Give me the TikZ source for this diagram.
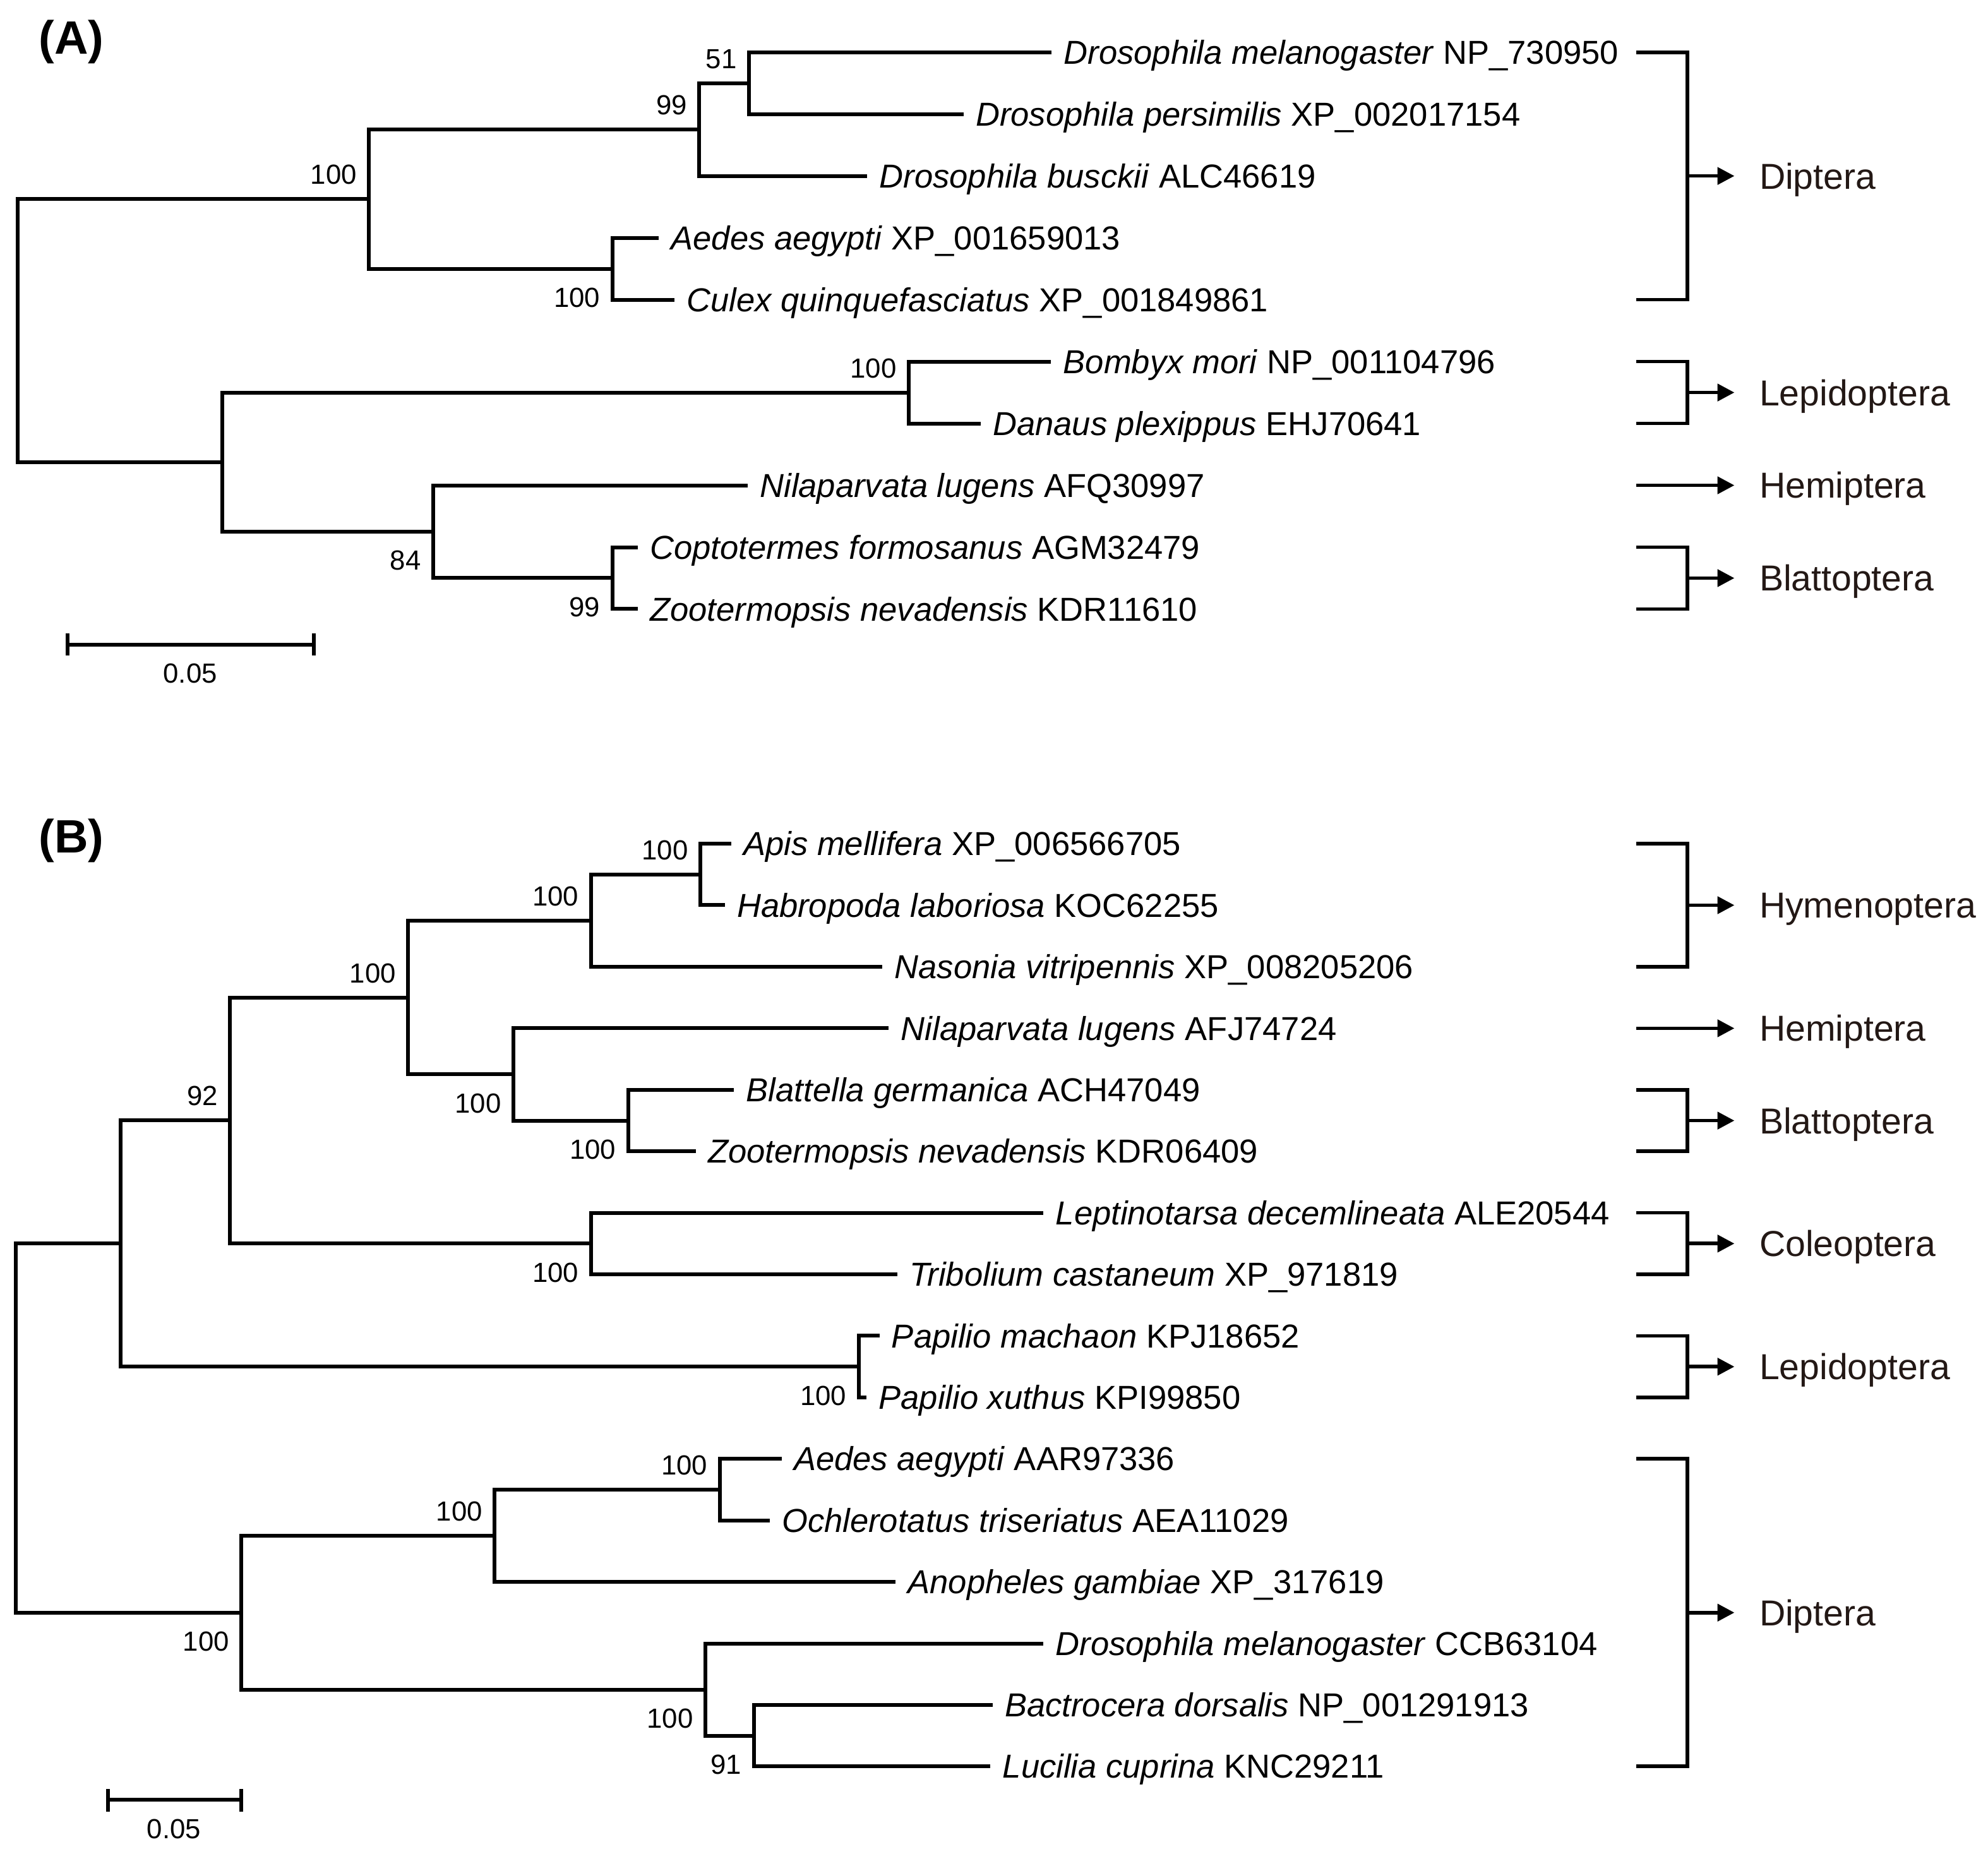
\documentclass[tikz,border=0pt]{standalone}
\usepackage{fontspec}
\setmainfont{Liberation Sans}
\usetikzlibrary{arrows.meta}
\definecolor{grpcol}{RGB}{35,24,21}
\tikzset{branch/.style = {line width=0.85pt},
         leaf/.style = {anchor=west, inner xsep=0.9mm, inner ysep=0pt, text height=5.3pt, text depth=0pt, font=\fontsize{7.45}{9}\selectfont},
         boot/.style = {inner sep=0pt, text height=4.45pt, text depth=0pt, font=\fontsize{6.2}{7}\selectfont},
         bsa/.style = {boot, anchor=south east, xshift=-0.9mm, yshift=1.1mm},
         bsb/.style = {boot, anchor=north east, xshift=-0.9mm, yshift=-1.4mm},
         bracket/.style = {line width=0.8pt},
         grparrow/.style = {line width=0.8pt, -{Triangle[length=3.8pt,width=3.8pt]}},
         group/.style = {anchor=west, inner xsep=1.9mm, inner ysep=0pt, text height=5.8pt, text depth=0pt, text=grpcol, font=\fontsize{8.1}{10}\selectfont},
         panel/.style = {anchor=west, inner sep=0pt, font=\fontsize{10.5}{12}\selectfont\bfseries}}

\begin{document}
\begin{tikzpicture}[x=0.1mm,y=-0.1mm]
    \useasboundingbox(0,0)rectangle(1568,1462);
    % panel A
    \node[panel](pA)at(30,33){(A)};
    \node[leaf](a1)at(829.4,41.2){\textit{Drosophila melanogaster} NP\_730950};
    \node[leaf](a2)at(760,90.0){\textit{Drosophila persimilis} XP\_002017154};
    \node[leaf](a3)at(684,138.8){\textit{Drosophila busckii} ALC46619};
    \node[leaf](a4)at(519.6,187.6){\textit{Aedes aegypti} XP\_001659013};
    \node[leaf](a5)at(532,236.4){\textit{Culex quinquefasciatus} XP\_001849861};
    \node[leaf](a6)at(829,285.2){\textit{Bombyx mori} NP\_001104796};
    \node[leaf](a7)at(773.4,334.0){\textit{Danaus plexippus} EHJ70641};
    \node[leaf](a8)at(589.7,382.8){\textit{Nilaparvata lugens} AFQ30997};
    \node[leaf](a9)at(503,431.6){\textit{Coptotermes formosanus} AGM32479};
    \node[leaf](a10)at(503,480.4){\textit{Zootermopsis nevadensis} KDR11610};
    \coordinate(nA51)at(590.7,65.6);
    \coordinate(nA99)at(551.6,102.2);
    \coordinate(nAae)at(483,212.0);
    \coordinate(nAdi)at(291,157.1);
    \coordinate(nAbm)at(716.8,309.6);
    \coordinate(nAct)at(483,456.0);
    \coordinate(nA84)at(341.6,419.4);
    \coordinate(nAlo)at(175.4,364.5);
    \coordinate(rA)at(13.7,260.8);
    \draw[branch](nA51)|-(a1.west);
    \draw[branch](nA51)|-(a2.west);
    \draw[branch](nA99)|-(nA51);
    \draw[branch](nA99)|-(a3.west);
    \draw[branch](nAae)|-(a4.west);
    \draw[branch](nAae)|-(a5.west);
    \draw[branch](nAdi)|-(nA99);
    \draw[branch](nAdi)|-(nAae);
    \draw[branch](nAbm)|-(a6.west);
    \draw[branch](nAbm)|-(a7.west);
    \draw[branch](nAct)|-(a9.west);
    \draw[branch](nAct)|-(a10.west);
    \draw[branch](nA84)|-(a8.west);
    \draw[branch](nA84)|-(nAct);
    \draw[branch](nAlo)|-(nAbm);
    \draw[branch](nAlo)|-(nA84);
    \draw[branch](rA)|-(nAdi);
    \draw[branch](rA)|-(nAlo);
    \node[bsa](bA51)at(nA51){51};
    \node[bsa](bA99)at(nA99){99};
    \node[bsa](bAdi)at(nAdi){100};
    \node[bsb](bAae)at(nAae){100};
    \node[bsa](bAbm)at(nAbm){100};
    \node[bsb](bA84)at(nA84){84};
    \node[bsb](bAct)at(nAct){99};
    % groups A
    \coordinate(kA1t)at(1290.6,41.2);
    \coordinate(kA1m)at(1331,138.8);
    \coordinate(kA1b)at(1290.6,236.4);
    \coordinate(kA2t)at(1290.6,285.2);
    \coordinate(kA2m)at(1331,309.6);
    \coordinate(kA2b)at(1290.6,334.0);
    \coordinate(kA3)at(1290.6,382.8);
    \coordinate(kA4t)at(1290.6,431.6);
    \coordinate(kA4m)at(1331,456.0);
    \coordinate(kA4b)at(1290.6,480.4);
    \node[group](gA1)at(1368,138.8){Diptera};
    \node[group](gA2)at(1368,309.6){Lepidoptera};
    \node[group](gA3)at(1368,382.8){Hemiptera};
    \node[group](gA4)at(1368,456.0){Blattoptera};
    \draw[bracket](kA1t)-|(kA1m)|-(kA1b);
    \draw[bracket](kA2t)-|(kA2m)|-(kA2b);
    \draw[bracket](kA4t)-|(kA4m)|-(kA4b);
    \draw[grparrow](kA1m)--(gA1.west);
    \draw[grparrow](kA2m)--(gA2.west);
    \draw[grparrow](kA3)--(gA3.west);
    \draw[grparrow](kA4m)--(gA4.west);
    % scale A
    \draw[branch](53.4,508.4)--(247.6,508.4);
    \draw[branch](53.4,499.7)--(53.4,517.1);
    \draw[branch](247.6,499.7)--(247.6,517.1);
    \node[boot](sA)at(150,531){0.05};

    % panel B
    \node[panel](pB)at(30,663){(B)};
    \node[leaf](b1)at(576.7,665.5){\textit{Apis mellifera} XP\_006566705};
    \node[leaf](b2)at(571.6,714.0){\textit{Habropoda laboriosa} KOC62255};
    \node[leaf](b3)at(696,762.5){\textit{Nasonia vitripennis} XP\_008205206};
    \node[leaf](b4)at(701,811.1){\textit{Nilaparvata lugens} AFJ74724};
    \node[leaf](b5)at(579,859.6){\textit{Blattella germanica} ACH47049};
    \node[leaf](b6)at(548.8,908.1){\textit{Zootermopsis nevadensis} KDR06409};
    \node[leaf](b7)at(823,956.6){\textit{Leptinotarsa decemlineata} ALE20544};
    \node[leaf](b8)at(707.8,1005.1){\textit{Tribolium castaneum} XP\_971819};
    \node[leaf](b9)at(693.6,1053.7){\textit{Papilio machaon} KPJ18652};
    \node[leaf](b10)at(683.4,1102.2){\textit{Papilio xuthus} KPI99850};
    \node[leaf](b11)at(616.4,1150.7){\textit{Aedes aegypti} AAR97336};
    \node[leaf](b12)at(607,1199.2){\textit{Ochlerotatus triseriatus} AEA11029};
    \node[leaf](b13)at(706.3,1247.7){\textit{Anopheles gambiae} XP\_317619};
    \node[leaf](b14)at(823,1296.3){\textit{Drosophila melanogaster} CCB63104};
    \node[leaf](b15)at(782.8,1344.8){\textit{Bactrocera dorsalis} NP\_001291913};
    \node[leaf](b16)at(781.2,1393.3){\textit{Lucilia cuprina} KNC29211};
    \coordinate(nBah)at(552.3,689.8);
    \coordinate(nBhy)at(466,726.1);
    \coordinate(nBbz)at(495.4,883.9);
    \coordinate(nBhe)at(405,847.5);
    \coordinate(nBhb)at(322,786.8);
    \coordinate(nBco)at(466,980.9);
    \coordinate(nB92)at(181.4,883.8);
    \coordinate(nBpa)at(677.3,1078.0);
    \coordinate(nBup)at(95,980.9);
    \coordinate(nBae)at(567.6,1175.0);
    \coordinate(nBmo)at(390.2,1211.4);
    \coordinate(nB91)at(594.5,1369.1);
    \coordinate(nBdr)at(556.4,1332.7);
    \coordinate(nBdi)at(190.5,1272.0);
    \coordinate(rB)at(12.7,1126.5);
    \draw[branch](nBah)|-(b1.west);
    \draw[branch](nBah)|-(b2.west);
    \draw[branch](nBhy)|-(nBah);
    \draw[branch](nBhy)|-(b3.west);
    \draw[branch](nBbz)|-(b5.west);
    \draw[branch](nBbz)|-(b6.west);
    \draw[branch](nBhe)|-(b4.west);
    \draw[branch](nBhe)|-(nBbz);
    \draw[branch](nBhb)|-(nBhy);
    \draw[branch](nBhb)|-(nBhe);
    \draw[branch](nBco)|-(b7.west);
    \draw[branch](nBco)|-(b8.west);
    \draw[branch](nB92)|-(nBhb);
    \draw[branch](nB92)|-(nBco);
    \draw[branch](nBpa)|-(b9.west);
    \draw[branch](nBpa)|-(b10.west);
    \draw[branch](nBup)|-(nB92);
    \draw[branch](nBup)|-(nBpa);
    \draw[branch](nBae)|-(b11.west);
    \draw[branch](nBae)|-(b12.west);
    \draw[branch](nBmo)|-(nBae);
    \draw[branch](nBmo)|-(b13.west);
    \draw[branch](nB91)|-(b15.west);
    \draw[branch](nB91)|-(b16.west);
    \draw[branch](nBdr)|-(b14.west);
    \draw[branch](nBdr)|-(nB91);
    \draw[branch](nBdi)|-(nBmo);
    \draw[branch](nBdi)|-(nBdr);
    \draw[branch](rB)|-(nBup);
    \draw[branch](rB)|-(nBdi);
    \node[bsa](bBah)at(nBah){100};
    \node[bsa](bBhy)at(nBhy){100};
    \node[bsa](bBhb)at(nBhb){100};
    \node[bsa](bB92)at(nB92){92};
    \node[bsb](bBhe)at(nBhe){100};
    \node[bsb](bBbz)at(nBbz){100};
    \node[bsb](bBco)at(nBco){100};
    \node[bsb](bBpa)at(nBpa){100};
    \node[bsa](bBae)at(nBae){100};
    \node[bsa](bBmo)at(nBmo){100};
    \node[bsb](bBdi)at(nBdi){100};
    \node[bsb](bBdr)at(nBdr){100};
    \node[bsb](bB91)at(nB91){91};
    % groups B
    \coordinate(kB1t)at(1290.6,665.5);
    \coordinate(kB1m)at(1331,714.0);
    \coordinate(kB1b)at(1290.6,762.5);
    \coordinate(kB2)at(1290.6,811.1);
    \coordinate(kB3t)at(1290.6,859.6);
    \coordinate(kB3m)at(1331,883.9);
    \coordinate(kB3b)at(1290.6,908.1);
    \coordinate(kB4t)at(1290.6,956.6);
    \coordinate(kB4m)at(1331,980.9);
    \coordinate(kB4b)at(1290.6,1005.1);
    \coordinate(kB5t)at(1290.6,1053.7);
    \coordinate(kB5m)at(1331,1078.0);
    \coordinate(kB5b)at(1290.6,1102.2);
    \coordinate(kB6t)at(1290.6,1150.7);
    \coordinate(kB6m)at(1331,1272.0);
    \coordinate(kB6b)at(1290.6,1393.3);
    \node[group](gB1)at(1368,714.0){Hymenoptera};
    \node[group](gB2)at(1368,811.1){Hemiptera};
    \node[group](gB3)at(1368,883.9){Blattoptera};
    \node[group](gB4)at(1368,980.9){Coleoptera};
    \node[group](gB5)at(1368,1078.0){Lepidoptera};
    \node[group](gB6)at(1368,1272.0){Diptera};
    \draw[bracket](kB1t)-|(kB1m)|-(kB1b);
    \draw[bracket](kB3t)-|(kB3m)|-(kB3b);
    \draw[bracket](kB4t)-|(kB4m)|-(kB4b);
    \draw[bracket](kB5t)-|(kB5m)|-(kB5b);
    \draw[bracket](kB6t)-|(kB6m)|-(kB6b);
    \draw[grparrow](kB1m)--(gB1.west);
    \draw[grparrow](kB2)--(gB2.west);
    \draw[grparrow](kB3m)--(gB3.west);
    \draw[grparrow](kB4m)--(gB4.west);
    \draw[grparrow](kB5m)--(gB5.west);
    \draw[grparrow](kB6m)--(gB6.west);
    % scale B
    \draw[branch](85.4,1419.5)--(190.5,1419.5);
    \draw[branch](85.4,1411.3)--(85.4,1428.8);
    \draw[branch](190.5,1411.3)--(190.5,1428.8);
    \node[boot](sB)at(137.2,1442.5){0.05};
\end{tikzpicture}
\end{document}
